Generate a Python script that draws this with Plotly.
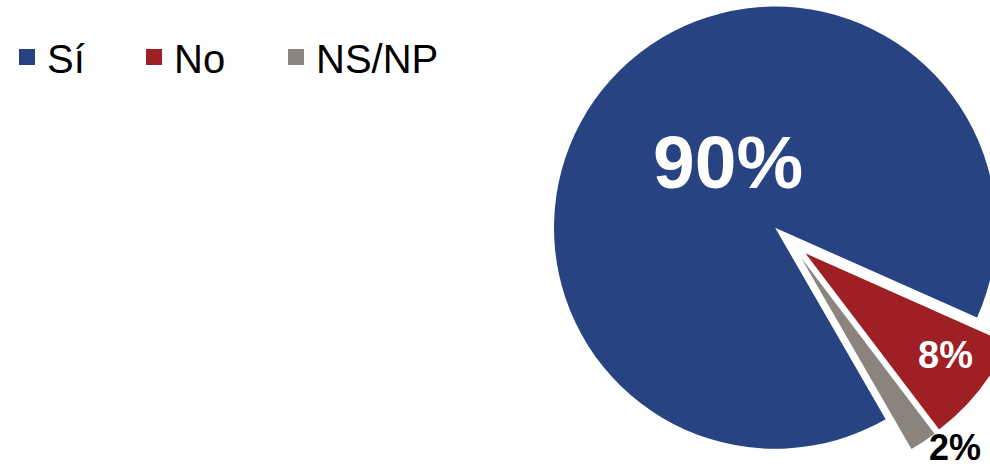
import plotly.graph_objects as go

labels = ["Sí", "No", "NS/NP"]
values = [90, 8, 2]
colors = ["#274382", "#9E1F24", "#8B837E"]
label_colors = ["white", "white", "black"]
label_sizes = [75, 38, 36]
pulls = [0.09, 0.09, 0.09]
legend_widths = [82, 97, 0]

FONT = "Liberation Sans, Arial, sans-serif"
W, H = 1031, 482

fig = go.Figure()
fig.add_trace(
    go.Pie(
        labels=labels,
        values=values,
        sort=False,
        direction="clockwise",
        rotation=150,
        pull=pulls,
        marker=dict(colors=colors, line=dict(width=0)),
        textinfo="none",
        domain=dict(x=[548.8 / W, 1.0], y=[0.0, 1.0]),
        showlegend=False,
        hoverinfo="label+percent",
    )
)

# legend entries (one per category)
for lab, col, lw in zip(labels, colors, legend_widths):
    fig.add_trace(
        go.Scatter(
            x=[None], y=[None], mode="markers", name=lab,
            marker=dict(symbol="square", size=16, color=col),
            legendwidth=lw if lw else None,
            hoverinfo="skip",
        )
    )

# percentage labels derived from the values
total = sum(values)
pct = [f"{round(100 * v / total)}%" for v in values]
label_pos = [(728, 162), (945, 355), (955, 447)]  # pixel centres
for t, (px, py), c, s in zip(pct, label_pos, label_colors, label_sizes):
    fig.add_annotation(
        text=f"<b>{t}</b>", x=px / W, y=1 - py / H, xref="paper", yref="paper",
        xanchor="center", yanchor="middle", showarrow=False,
        font=dict(family=FONT, size=s, color=c),
    )

fig.update_layout(
    width=W,
    height=H,
    margin=dict(l=0, r=0, t=0, b=0, autoexpand=False),
    paper_bgcolor="white",
    plot_bgcolor="white",
    xaxis=dict(visible=False),
    yaxis=dict(visible=False),
    showlegend=True,
    legend=dict(
        orientation="h",
        x=7 / W,
        y=1 - 24.5 / H,
        xanchor="left",
        yanchor="top",
        font=dict(family=FONT, size=40, color="black"),
        bgcolor="rgba(0,0,0,0)",
    ),
)

fig.write_html(
    "out.html",
    config={"displayModeBar": False},
    post_script="document.body.style.margin='0';document.body.style.overflow='hidden';document.documentElement.style.overflow='hidden';",
)
